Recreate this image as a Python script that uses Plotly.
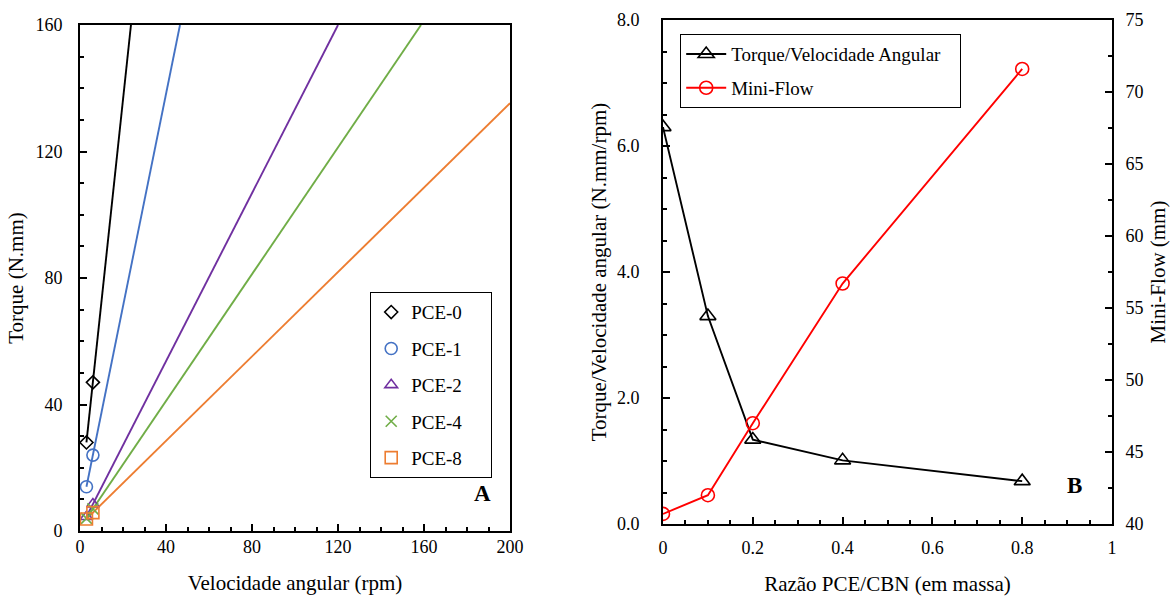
import plotly.graph_objects as go

# ---------------- Panel A data ----------------
rpm = [3, 6]
pce_names = ["PCE-0", "PCE-1", "PCE-2", "PCE-4", "PCE-8"]
torque_pce0 = [28, 47]
torque_pce1 = [14, 24]
torque_pce2 = [4.5, 8.5]
torque_pce4 = [4, 7]
torque_pce8 = [3.8, 5.8]
# end points of the extrapolated linear fits
line_end_rpm = [23.7, 46.5, 120, 158.6, 200]
line_end_torque = [160, 160, 160, 160, 135.3]

# ---------------- Panel B data ----------------
ratio = [0, 0.1, 0.2, 0.4, 0.8]
torque_per_speed = [6.3, 3.3, 1.34, 1.01, 0.68]
mini_flow = [40.7, 42.0, 47.0, 56.7, 71.6]

FONT = "Liberation Serif, Times New Roman, serif"
colors = ["#000000", "#4472C4", "#7030A0", "#70AD47", "#ED7D31"]
symbols = ["diamond-open", "circle-open", "triangle-up-open", "x-thin-open", "square-open"]
sizes = [10, 12, 11, 11, 12]
series = [torque_pce0, torque_pce1, torque_pce2, torque_pce4, torque_pce8]

# plot-area geometry (pixels) used to place paper-referenced items
ML, MR, MT, MB = 80, 61, 20, 67
W, H = 1173, 598
PW, PH = W - ML - MR, H - MT - MB


def px(x):
    return (x - ML) / PW


def py(y):
    return (H - MB - y) / PH


fig = go.Figure()

for i, name in enumerate(pce_names):
    ys = series[i]
    fig.add_trace(go.Scatter(
        x=[rpm[0], rpm[1], line_end_rpm[i]], y=[ys[0], ys[1], line_end_torque[i]],
        mode="lines", line=dict(color=colors[i], width=1.9),
        showlegend=False, xaxis="x", yaxis="y", hoverinfo="skip"))
for i, name in enumerate(pce_names):
    ys = series[i]
    fig.add_trace(go.Scatter(
        x=rpm, y=ys, mode="markers", name=name + "\u00a0\u00a0\u00a0\u00a0\u00a0",
        legendgroup=name, legend="legend",
        marker=dict(symbol=symbols[i], size=sizes[i], color=colors[i],
                    line=dict(color=colors[i], width=1.6)),
        xaxis="x", yaxis="y"))

fig.add_trace(go.Scatter(
    x=ratio, y=torque_per_speed, mode="lines+markers",
    name="Torque/Velocidade Angular\u00a0\u00a0\u00a0",
    legendgroup="tv", legend="legend2",
    line=dict(color="black", width=1.9),
    marker=dict(symbol="triangle-up-open", size=14, color="black", line=dict(width=1.6, color="black")),
    xaxis="x2", yaxis="y2"))
fig.add_trace(go.Scatter(
    x=ratio, y=mini_flow, mode="lines+markers", name="Mini-Flow",
    legendgroup="mf", legend="legend2",
    line=dict(color="#FF0000", width=1.9),
    marker=dict(symbol="circle-open", size=13, color="#FF0000", line=dict(width=1.6, color="#FF0000")),
    xaxis="x2", yaxis="y3"))

tickfont = dict(family=FONT, size=18, color="black")
titlefont = dict(family=FONT, size=21, color="black")
common = dict(showgrid=False, zeroline=False, showline=True, linecolor="black", linewidth=2,
              ticks="inside", ticklen=7, tickwidth=1.5, tickcolor="black", tickfont=tickfont,
              automargin=False)
minor_style = dict(ticks="inside", ticklen=4, tickcolor="black", tickwidth=1.5)

fig.update_layout(
    template="none",
    width=W, height=H,
    margin=dict(l=ML, r=MR, t=MT, b=MB),
    paper_bgcolor="white", plot_bgcolor="white",
    font=dict(family=FONT, size=18, color="black"),
    xaxis=dict(domain=[0, px(510)], range=[0, 200], tickvals=[0, 40, 80, 120, 160, 200],
               minor=dict(dtick=10, **minor_style),
               mirror=True, anchor="y", ticklabelstandoff=-2,
               title=dict(text="Velocidade angular (rpm)", font=titlefont, standoff=20), **common),
    yaxis=dict(domain=[0, py(25)], range=[0, 160], tickvals=[0, 40, 80, 120, 160],
               minor=dict(dtick=10, **minor_style),
               mirror=True, anchor="x", ticklabelstandoff=12,
               title=dict(text="Torque (N.mm)", font=titlefont, standoff=6), **common),
    xaxis2=dict(domain=[px(663), 1], range=[0, 1], tickvals=[0, 0.2, 0.4, 0.6, 0.8, 1],
                ticktext=["0", "0.2", "0.4", "0.6", "0.8", "1"],
                minor=dict(dtick=0.05, **minor_style),
                mirror=True, anchor="y2", ticklabelstandoff=6,
                title=dict(text="Razão PCE/CBN (em massa)", font=titlefont, standoff=20), **common),
    yaxis2=dict(domain=[py(524), 1], range=[0, 8], tickvals=[0, 2, 4, 6, 8], tickformat=".1f",
                minor=dict(dtick=0.5, **minor_style),
                anchor="x2", ticklabelstandoff=18,
                title=dict(text="Torque/Velocidade angular (N.mm/rpm)", font=titlefont, standoff=5), **common),
    yaxis3=dict(range=[40, 75], tickvals=[40, 45, 50, 55, 60, 65, 70, 75],
                minor=dict(dtick=2.5, **minor_style),
                anchor="x2", overlaying="y2", side="right", ticklabelstandoff=8,
                title=dict(text="Mini-Flow (mm)", font=titlefont, standoff=8), **common),
    legend=dict(x=px(370), y=py(292), xref="paper", yref="paper",
                xanchor="left", yanchor="top", bgcolor="white",
                bordercolor="black", borderwidth=1.2, font=dict(family=FONT, size=19),
                tracegroupgap=8.7, itemwidth=30, traceorder="grouped"),
    legend2=dict(x=px(680), y=py(34), xref="paper", yref="paper",
                 xanchor="left", yanchor="top", bgcolor="white",
                 bordercolor="black", borderwidth=1.2, font=dict(family=FONT, size=19),
                 tracegroupgap=6, itemwidth=40, traceorder="grouped"),
    annotations=[
        dict(text="<b>A</b>", x=px(482), y=py(508), xref="paper", yref="paper",
             showarrow=False, font=dict(family=FONT, size=23, color="black")),
        dict(text="<b>B</b>", x=px(1084), y=py(500), xref="paper", yref="paper",
             showarrow=False, font=dict(family=FONT, size=23, color="black")),
    ],
)

fig.write_html("out.html")
